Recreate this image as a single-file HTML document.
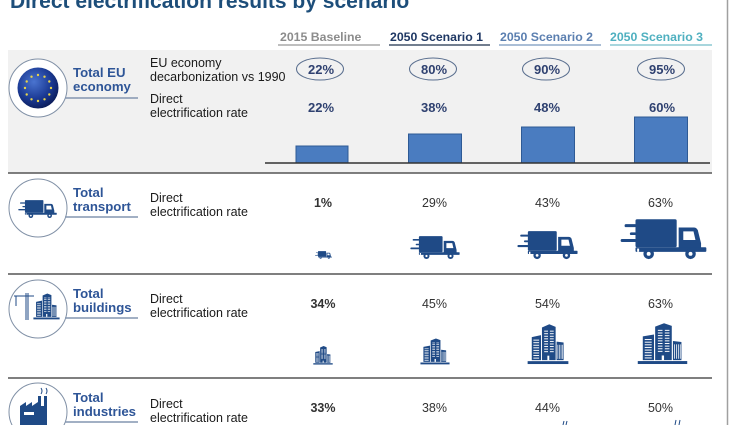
<!DOCTYPE html>
<html><head><meta charset="utf-8"><style>
html,body{margin:0;padding:0;background:#fff;}
svg{display:block;font-family:"Liberation Sans",Arial,sans-serif;}
</style></head><body>
<svg width="730" height="425" viewBox="0 0 730 425" xmlns="http://www.w3.org/2000/svg">
<defs>
<radialGradient id="eu" cx="40%" cy="35%" r="70%">
<stop offset="0" stop-color="#4a74d0"/><stop offset="0.6" stop-color="#1b3a94"/><stop offset="1" stop-color="#0a1a55"/>
</radialGradient>
<symbol id="truck" viewBox="58 54 264 122">
<rect x="72" y="70" width="36" height="9" rx="4"/>
<rect x="88" y="95" width="20" height="8" rx="4"/>
<rect x="60" y="115" width="48" height="9" rx="4"/>
<rect x="105" y="55" width="125" height="85" rx="5"/>
<path d="M236 80 H282 Q290 80 294 88 L304 128 V150 H236 Z"/>
<path d="M250 92 H281 L287 118 H250 Z" fill="#fff"/>
<rect x="105" y="140" width="215" height="14" rx="3"/>
<rect x="110" y="144" width="6" height="10" fill="#fff"/>
<circle cx="145" cy="160" r="16"/><circle cx="145" cy="160" r="6" fill="#fff"/>
<circle cx="272" cy="160" r="16"/><circle cx="272" cy="160" r="6" fill="#fff"/>
</symbol>
<symbol id="bld" viewBox="80 33 132 134" preserveAspectRatio="none">
<rect x="82" y="155" width="128" height="9"/>
<path d="M95 80 L124 74 V152 H95Z"/>
<path d="M127 50 L150 40 L170 48 V152 H127Z"/>
<path d="M173 94 L195 97 V152 H173Z"/>
<g fill="#fff">
<rect x="100" y="88" width="18" height="3"/><rect x="100" y="96" width="18" height="3"/><rect x="100" y="104" width="18" height="3"/><rect x="100" y="112" width="18" height="3"/><rect x="100" y="120" width="18" height="3"/><rect x="100" y="128" width="18" height="3"/><rect x="100" y="136" width="18" height="3"/><rect x="100" y="144" width="18" height="3"/>
<rect x="134" y="60" width="12" height="3"/><rect x="134" y="68" width="12" height="3"/><rect x="134" y="76" width="12" height="3"/><rect x="134" y="84" width="12" height="3"/><rect x="134" y="92" width="12" height="3"/><rect x="134" y="100" width="12" height="3"/><rect x="134" y="108" width="12" height="3"/><rect x="134" y="116" width="12" height="3"/><rect x="134" y="124" width="12" height="3"/>
<rect x="152" y="60" width="12" height="3"/><rect x="152" y="68" width="12" height="3"/><rect x="152" y="76" width="12" height="3"/><rect x="152" y="84" width="12" height="3"/><rect x="152" y="92" width="12" height="3"/><rect x="152" y="100" width="12" height="3"/><rect x="152" y="108" width="12" height="3"/><rect x="152" y="116" width="12" height="3"/><rect x="152" y="124" width="12" height="3"/>
<rect x="144" y="138" width="6" height="14"/>
<rect x="176" y="104" width="2" height="44"/><rect x="181" y="104" width="2" height="44"/><rect x="186" y="104" width="2" height="44"/><rect x="191" y="104" width="2" height="44"/>
</g>
</symbol>
</defs>

<text x="10" y="8" font-size="21" font-weight="bold" fill="#1d4e7a">Direct electrification results by scenario</text>

<g font-size="12.3" font-weight="bold">
<text x="280" y="41" fill="#8c8c8c">2015 Baseline</text>
<text x="390" y="41" fill="#1f3864">2050 Scenario 1</text>
<text x="500" y="41" fill="#5b7fb0">2050 Scenario 2</text>
<text x="610" y="41" fill="#4fb0c0">2050 Scenario 3</text>
</g>
<g stroke-width="1.5">
<line x1="278" y1="45" x2="380" y2="45" stroke="#a8a8a8"/>
<line x1="389" y1="45" x2="490" y2="45" stroke="#44546a"/>
<line x1="499" y1="45" x2="601" y2="45" stroke="#8ea9c8"/>
<line x1="610" y1="45" x2="712" y2="45" stroke="#8cc8d2"/>
</g>

<rect x="8" y="50" width="704" height="123" fill="#f1f1f1"/>

<g stroke="#555" stroke-width="1.5">
<line x1="8" y1="173" x2="712" y2="173"/>
<line x1="8" y1="274" x2="712" y2="274"/>
<line x1="8" y1="378" x2="712" y2="378"/>
</g>
<line x1="727.5" y1="0" x2="727.5" y2="425" stroke="#a0a0a0" stroke-width="1.5"/>

<g fill="#fff" stroke="#8090a6" stroke-width="1">
<circle cx="38" cy="88" r="29"/>
<circle cx="38" cy="208" r="29"/>
<circle cx="38" cy="309" r="29"/>
<circle cx="38" cy="412" r="29"/>
</g>
<circle cx="38" cy="88" r="20.5" fill="url(#eu)"/>
<g fill="#e8d44a">
<circle cx="38" cy="75" r="1.2"/><circle cx="44.5" cy="76.7" r="1.2"/><circle cx="49.3" cy="81.5" r="1.2"/><circle cx="51" cy="88" r="1.2"/><circle cx="49.3" cy="94.5" r="1.2"/><circle cx="44.5" cy="99.3" r="1.2"/><circle cx="38" cy="101" r="1.2"/><circle cx="31.5" cy="99.3" r="1.2"/><circle cx="26.7" cy="94.5" r="1.2"/><circle cx="25" cy="88" r="1.2"/><circle cx="26.7" cy="81.5" r="1.2"/><circle cx="31.5" cy="76.7" r="1.2"/>
</g>

<g fill="#1f4a86">
<use href="#truck" x="18" y="199" width="39" height="20"/>
<use href="#bld" x="33" y="292" width="27" height="28"/>
</g>
<g stroke="#1f4a86" stroke-width="1" fill="none">
<line x1="14" y1="296" x2="34" y2="296"/>
<line x1="26" y1="293" x2="26" y2="320"/>
<line x1="28" y1="293" x2="28" y2="320"/>
<line x1="16" y1="296" x2="16" y2="306"/>
</g>
<path d="M20 425 V406 L26 402 V406 L32 402 V406 L38 402 V396 H41 V406 H44 V396 H47 V425 Z" fill="#1f4a86"/>
<rect x="24" y="412" width="10" height="3" fill="#fff"/>
<path d="M41 394 q2 -3 0 -6 M46 394 q2 -3 0 -6" stroke="#1f4a86" stroke-width="1" fill="none"/>

<g font-size="13.2" font-weight="bold" fill="#2e5597">
<text x="73" y="77">Total EU</text><text x="73" y="91">economy</text>
<text x="73" y="197">Total</text><text x="73" y="211">transport</text>
<text x="73" y="298">Total</text><text x="73" y="312">buildings</text>
<text x="73" y="402">Total</text><text x="73" y="416">industries</text>
</g>
<g stroke="#8496b0" stroke-width="1.5">
<line x1="65" y1="98" x2="138" y2="98"/>
<line x1="65" y1="217" x2="138" y2="217"/>
<line x1="65" y1="318" x2="138" y2="318"/>
<line x1="65" y1="422" x2="138" y2="422"/>
</g>
<g font-size="12.5" fill="#1a1a1a">
<text x="150" y="67">EU economy</text><text x="150" y="81">decarbonization vs 1990</text>
<text x="150" y="103">Direct</text><text x="150" y="117">electrification rate</text>
<text x="150" y="202">Direct</text><text x="150" y="216">electrification rate</text>
<text x="150" y="303">Direct</text><text x="150" y="317">electrification rate</text>
<text x="150" y="408">Direct</text><text x="150" y="422">electrification rate</text>
</g>

<g fill="none" stroke="#5a6f8f" stroke-width="1">
<ellipse cx="320" cy="69" rx="23.5" ry="11"/>
<ellipse cx="433" cy="69" rx="23.5" ry="11"/>
<ellipse cx="546" cy="69" rx="23.5" ry="11"/>
<ellipse cx="661" cy="69" rx="23.5" ry="11"/>
</g>
<g font-size="13" font-weight="bold" fill="#2f4170" text-anchor="middle">
<text x="321" y="74">22%</text><text x="434" y="74">80%</text><text x="547" y="74">90%</text><text x="662" y="74">95%</text>
<text x="321" y="112">22%</text><text x="434" y="112">38%</text><text x="547" y="112">48%</text><text x="662" y="112">60%</text>
</g>
<g fill="#4a7cc0" stroke="#2e5a95" stroke-width="1">
<rect x="296" y="146" width="52" height="17"/>
<rect x="408.5" y="134" width="53" height="29"/>
<rect x="521.5" y="127" width="53" height="36"/>
<rect x="634.5" y="117" width="53" height="46"/>
</g>
<line x1="265" y1="163" x2="710" y2="163" stroke="#333" stroke-width="1.5"/>

<g font-size="12.5" fill="#333" text-anchor="middle">
<text x="323" y="207" font-weight="bold">1%</text><text x="434.5" y="207">29%</text><text x="547.5" y="207">43%</text><text x="660.5" y="207">63%</text>
<text x="323" y="308" font-weight="bold">34%</text><text x="434.5" y="308">45%</text><text x="547.5" y="308">54%</text><text x="660.5" y="308">63%</text>
<text x="323" y="412" font-weight="bold">33%</text><text x="434.5" y="412">38%</text><text x="547.5" y="412">44%</text><text x="660.5" y="412">50%</text>
</g>

<g fill="#1f4a86">
<use href="#truck" x="315" y="251" width="17" height="8"/>
<use href="#truck" x="410" y="235" width="50" height="25"/>
<use href="#truck" x="517" y="230" width="61" height="30"/>
<use href="#truck" x="620" y="218" width="87" height="42"/>
<use href="#bld" x="313" y="345" width="20" height="20"/>
<use href="#bld" x="420" y="337" width="30" height="28"/>
<use href="#bld" x="527" y="322" width="42" height="43"/>
<use href="#bld" x="637" y="321" width="51" height="44"/>
</g>
<g stroke="#1f4a86" stroke-width="1" fill="none">
<path d="M563 425 l1 -4 M566 425 l1 -4"/>
<path d="M675 425 l1 -5 M679 425 l1 -5"/>
</g>
</svg>
</body></html>
